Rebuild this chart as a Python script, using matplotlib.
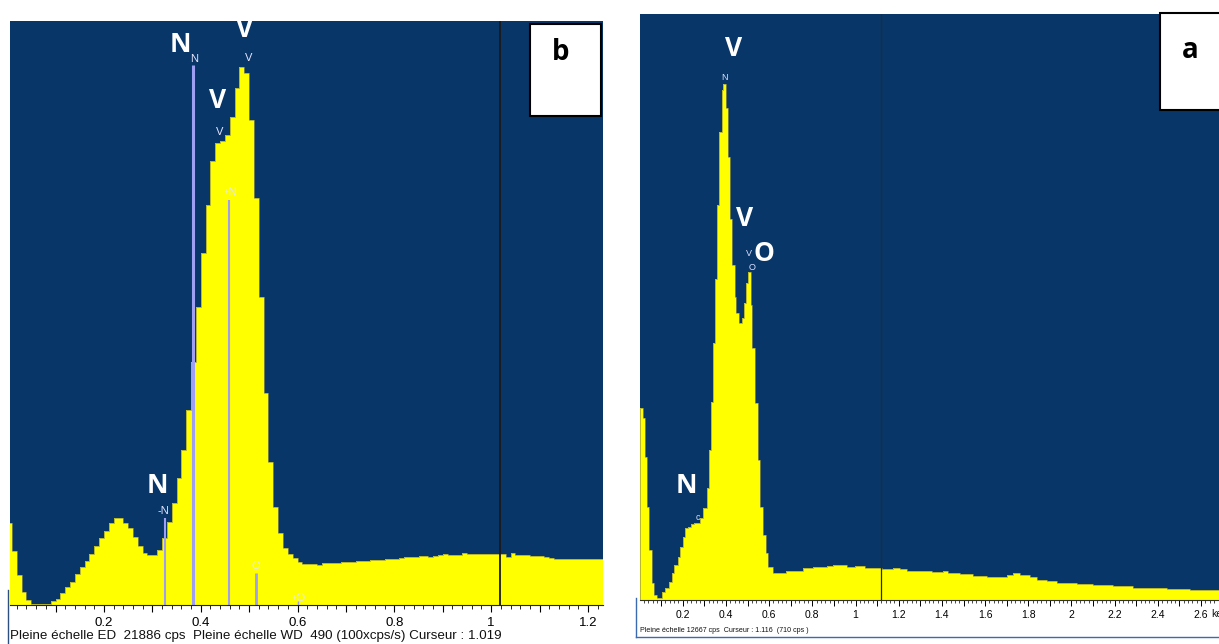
import numpy as np
import matplotlib
matplotlib.use("Agg")
import matplotlib.pyplot as plt
from matplotlib import font_manager
from matplotlib.patches import Rectangle
from matplotlib.lines import Line2D

# --- panel b (left) : 10 eV bins, counts (cps) ---
b_start = 0.0
b_counts = [3075, 2025, 1125, 490, 190, 40, 20, 20, 40, 150,
            225, 450, 675, 860, 1160, 1425, 1650, 1910, 2210, 2510,
            2775, 3075, 3260, 3260, 3075, 2890, 2550, 2210, 1950, 1875,
            1875, 2060, 2510, 3110, 3825, 4760, 5810, 7310, 9110, 11175,
            13200, 15000, 16650, 17325, 17400, 17625, 18300, 19390, 20175, 19950,
            18190, 15260, 11550, 7950, 5360, 3675, 2700, 2140, 1910, 1760,
            1610, 1540, 1540, 1540, 1500, 1575, 1575, 1575, 1575, 1610,
            1610, 1610, 1650, 1650, 1650, 1690, 1690, 1690, 1725, 1725,
            1725, 1760, 1800, 1800, 1800, 1840, 1840, 1800, 1840, 1875,
            1910, 1875, 1875, 1875, 1950, 1910, 1910, 1910, 1910, 1910,
            1910, 1910, 1910, 1800, 1950, 1875, 1875, 1875, 1840, 1840,
            1840, 1800, 1760, 1725, 1725, 1725, 1725, 1725, 1725, 1725,
            1725, 1725, 1725]
# marker lines (keV, height cps)
b_lines_x = [0.326, 0.384, 0.459, 0.514, 0.601]
b_lines_h = [3260, 20250, 15190, 1200, 150]
b_lines_w = [1.5, 2.2, 1.5, 2.0, 1.0]
b_cursor = 1.019
b_full = 21886

# --- panel a (right) : bin edges (keV) and counts (cps) ---
a_edges = [0.000, 0.015, 0.025, 0.036, 0.045, 0.056, 0.067, 0.080, 0.103, 0.118,
           0.134, 0.149, 0.161, 0.177, 0.188, 0.200, 0.211, 0.226, 0.238, 0.254,
           0.280, 0.295, 0.311, 0.322, 0.331, 0.339, 0.350, 0.360, 0.368, 0.380,
           0.388, 0.400, 0.408, 0.420, 0.428, 0.440, 0.447, 0.462, 0.473, 0.485,
           0.493, 0.502, 0.515, 0.522, 0.535, 0.547, 0.558, 0.573, 0.585, 0.597,
           0.620, 0.680, 0.757, 0.805, 0.867, 0.897, 0.959, 0.998, 1.044, 1.121,
           1.175, 1.206, 1.237, 1.353, 1.406, 1.430, 1.484, 1.545, 1.607, 1.700,
           1.730, 1.762, 1.808, 1.839, 1.885, 1.931, 2.024, 2.101, 2.194, 2.286,
           2.440, 2.549, 2.700]
a_counts = [4150, 3930, 3090, 2010, 1080, 370, 110, 45, 170, 260,
            390, 580, 760, 930, 1145, 1360, 1555, 1575, 1640, 1665,
            1770, 1990, 2420, 3240, 4280, 5550, 6930, 8530, 10110, 11020,
            11150, 10630, 9570, 8230, 7240, 6540, 6200, 5980, 6090, 6420,
            6850, 7085, 6370, 5440, 4255, 3025, 2010, 1400, 1015, 710,
            583, 626, 691, 713, 734, 756, 713, 734, 691, 670,
            691, 670, 626, 605, 626, 583, 562, 518, 497, 540,
            583, 540, 497, 432, 410, 367, 346, 324, 302, 259,
            238, 216]
a_cursor = 1.116
a_full = 12667

BG = "#083668"
YEL = "#ffff00"
LAV = "#9e9ef2"


def pick(names):
    for n in names:
        try:
            font_manager.findfont(n, fallback_to_default=False)
            return n
        except Exception:
            pass
    return "DejaVu Sans"


SANS = pick(["Liberation Sans", "DejaVu Sans"])
NARROW = pick(["Liberation Sans Narrow", "DejaVu Sans Condensed", "Liberation Sans"])
BOLD = pick(["Open Sans", "DejaVu Sans"])

W, H = 1219, 644
fig = plt.figure(figsize=(W / 100, H / 100), dpi=100)


def fbox(x0, y0, x1, y1):
    # pixel box (top-left origin) -> figure fractions
    return [x0 / W, 1 - y1 / H, (x1 - x0) / W, (y1 - y0) / H]


# ---------------- panel b ----------------
axb = fig.add_axes(fbox(10, 21, 603, 605))
axb.set_facecolor(BG)
edges_b = b_start + 0.01 * np.arange(len(b_counts) + 1)
axb.stairs(b_counts, edges_b, fill=True, color=YEL, baseline=0)
axb.stairs(b_counts, edges_b, fill=False, color="#9a9a3c", lw=0.5)
for x, h, w in zip(b_lines_x, b_lines_h, b_lines_w):
    axb.vlines(x, 0, h, color=LAV, lw=w)
axb.axvline(b_cursor, color="#1a1a1a", lw=1.3)
axb.set_xlim(0.006, 1.231)
axb.set_ylim(0, b_full)

small = dict(color="#e4e6ff", fontsize=8, family=SANS, ha="center", va="center")
axb.text(0.386, 20450, "N", **small)
axb.text(0.500, 20500, "V", **small)
axb.text(0.440, 17730, "V", **small)
axb.text(0.459, 15480, "+N", **small)
axb.text(0.322, 3520, "-N", **small)
axb.text(0.514, 1460, "O", **small)
axb.text(0.601, 260, "+O", **small)

big = dict(color="white", fontsize=19, fontweight="bold", family=BOLD,
           ha="center", va="center")
axb.text(0.357, 20990, "N", **big)
axb.text(0.490, 21550, "V", **big)
axb.text(0.434, 18890, "V", **big)
axb.text(0.310, 4460, "N", **big)

axb.set_xticks(np.arange(0.1, 1.25, 0.1))
axb.set_xticklabels(["" if i % 2 == 0 else ("%g" % v) for i, v in
                     enumerate(np.round(np.arange(0.1, 1.25, 0.1), 1))],
                    family=SANS, fontsize=9.5)
axb.set_xticks(np.arange(0.02, 1.24, 0.02), minor=True)
axb.tick_params(axis="x", which="major", length=5, width=0.8, pad=4, direction="out")
axb.tick_params(axis="x", which="minor", length=3, width=0.6, direction="out")
axb.set_yticks([])
for s in ["top", "right", "left"]:
    axb.spines[s].set_visible(False)
axb.spines["bottom"].set_color("#222222")

fig.text(10 / W, 1 - 636 / H,
         "Pleine échelle ED  21886 cps  Pleine échelle WD  490 (100xcps/s) Curseur : 1.019",
         family=SANS, fontsize=9.6, ha="left", va="center", color="#111111")

# ---------------- panel a ----------------
axa = fig.add_axes(fbox(640, 14, 1219, 600))
axa.set_facecolor(BG)
axa.stairs(a_counts, a_edges, fill=True, color=YEL, baseline=0)
axa.stairs(a_counts, a_edges, fill=False, color="#9a9a3c", lw=0.5)
axa.axvline(a_cursor, color="#2a2a2a", lw=0.9)
axa.set_xlim(0.002, 2.683)
axa.set_ylim(0, a_full)

small_a = dict(color="#dfe2ff", fontsize=6.5, family=NARROW, ha="center", va="center")
axa.text(0.391, 11300, "N", **small_a)
axa.text(0.505, 7500, "V", **small_a)
axa.text(0.520, 7190, "O", **small_a)
axa.text(0.270, 1790, "c", **small_a)

axa.text(0.4375, 11920, "V", **big)
axa.text(0.488, 8250, "V", **big)
axa.text(0.578, 7500, "O", **big)
axa.text(0.215, 2480, "N", **big)

maj = np.round(np.arange(0.1, 2.65, 0.1), 1)
axa.set_xticks(maj)
axa.set_xticklabels(["" if i % 2 == 0 else ("%g" % v) for i, v in enumerate(maj)],
                    family=NARROW, fontsize=7.5)
axa.set_xticks(np.arange(0.02, 2.68, 0.02), minor=True)
axa.tick_params(axis="x", which="major", length=4, width=0.7, pad=3, direction="out")
axa.tick_params(axis="x", which="minor", length=2.5, width=0.5, direction="out")
axa.set_yticks([])
for s in ["top", "right", "left"]:
    axa.spines[s].set_visible(False)
axa.spines["bottom"].set_color("#333333")

fig.text(640 / W, 1 - 631 / H,
         "Pleine échelle 12667 cps  Curseur : 1.116  (710 cps )",
         family=NARROW, fontsize=5.1, ha="left", va="center", color="#111111")
# axis unit, cut by the right edge as in the screenshot
fig.text(1211 / W, 1 - 614 / H, "keV", family=NARROW, fontsize=7.5,
         ha="left", va="center", color="#111111")

# window borders
fig.add_artist(Line2D([8 / W, 8 / W], [0, 1 - 590 / H], color="#2b4f80", lw=1))
fig.add_artist(Line2D([636 / W, 636 / W], [1 - 637 / H, 1 - 598 / H], color="#3a6ab0", lw=1))
fig.add_artist(Line2D([636 / W, 1], [1 - 637 / H, 1 - 637 / H], color="#3a6ab0", lw=1))

# panel letter boxes
fig.add_artist(Rectangle((530 / W, 1 - 116 / H), 71 / W, 92 / H, transform=fig.transFigure,
                         facecolor="white", edgecolor="black", lw=1.5))
fig.text(561 / W, 1 - 53 / H, "b", family=BOLD, fontweight="bold", fontsize=20,
         ha="center", va="center", color="black")
fig.add_artist(Rectangle((1160 / W, 1 - 110 / H), 70 / W, 97 / H, transform=fig.transFigure,
                         facecolor="white", edgecolor="black", lw=1.5))
fig.text(1190 / W, 1 - 50 / H, "a", family=BOLD, fontweight="bold", fontsize=20,
         ha="center", va="center", color="black")

fig.savefig("out.png", dpi=100, facecolor="white")
